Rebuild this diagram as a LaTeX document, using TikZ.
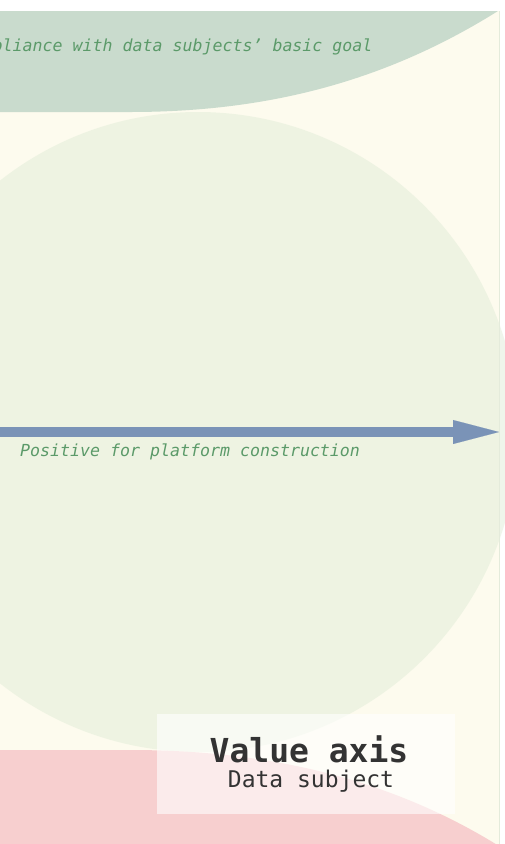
\documentclass[tikz,border=0pt]{standalone}
\usepackage{fontspec}
\newfontfamily\monof{DejaVu Sans Mono}
\usetikzlibrary{arrows.meta}
\definecolor{panelcol}{HTML}{FDFBEE}
\definecolor{topgreen}{HTML}{C9DBCD}
\definecolor{pinkcol}{HTML}{F7CFCF}
\definecolor{circcol}{HTML}{E1EDD8}
\definecolor{arrowcol}{HTML}{7A93B7}
\definecolor{textgreen}{HTML}{5B9A69}
\definecolor{darktext}{HTML}{333333}
\definecolor{bordercol}{HTML}{E4EBDB}
\begin{document}
\begin{tikzpicture}[x=1pt,y=-1pt,
  lbl/.style={inner sep=0pt, anchor=base west, text=textgreen,
    font=\monof\itshape\fontsize{16.6}{20}\selectfont},
  titlest/.style={inner sep=0pt, anchor=base, text=darktext,
    font=\monof\bfseries\fontsize{33}{38}\selectfont},
  subst/.style={inner sep=0pt, anchor=base, text=darktext,
    font=\monof\fontsize{23}{27}\selectfont},
  boxst/.style={draw=none, fill=white, fill opacity=0.6, inner sep=0pt,
    minimum width=298pt, minimum height=100pt},
  axisarrow/.style={draw=arrowcol, line width=10pt,
    -{Triangle[length=46pt,width=24pt,line width=0.1pt]}}]
\useasboundingbox (0,0) rectangle (505,844);
\clip (0,0) rectangle (505,844);
\fill[white] (0,0) rectangle (505,844);
\fill[panelcol] (0,11) rectangle (499,860);
% top green band
\begin{scope}
  \clip (0,11) rectangle (499,860);
  \fill[topgreen] (-5,0) -- (520,0) -- (498,11)
    .. controls (380,85) and (260,112) .. (130,112)
    -- (-5,112) -- cycle;
\end{scope}
% big circle
\fill[circcol, fill opacity=0.5] (198,432) circle[radius=320];
% bottom pink band
\begin{scope}
  \clip (0,11) rectangle (499,860);
  \fill[pinkcol] (-5,750) -- (130,750)
    .. controls (260,750) and (390,775) .. (510,853)
    -- (520,870) -- (-5,870) -- cycle;
\end{scope}
\draw[bordercol, line width=1pt] (499,11) -- (499,844);
% axis arrow
\coordinate (axstart) at (-10,432);
\coordinate (axend) at (499,432);
\draw[axisarrow] (axstart) -- (axend);
% labels
\node[lbl] (goal) at (-7.5,51) {pliance with data subjects’ basic goal};
\node[lbl] (positive) at (20,456) {Positive for platform construction};
% value axis box
\node[boxst] (vbox) at (306,764) {};
\node[titlest] (vtitle) at (309,762) {Value axis};
\node[subst] (vsub) at (311,787) {Data subject};
\end{tikzpicture}
\end{document}
